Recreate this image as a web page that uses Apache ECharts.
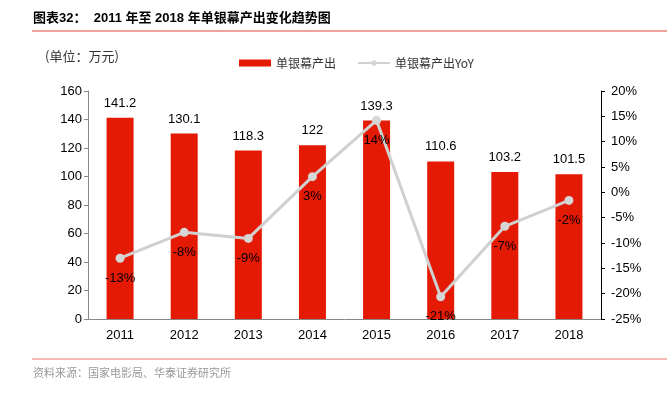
<!DOCTYPE html>
<html>
<head>
<meta charset="utf-8">
<script src="https://cdn.jsdelivr.net/npm/echarts@6/dist/echarts.min.js"></script>
<style>
  html, body { margin: 0; padding: 0; background: #fff; }
  #chart { width: 667px; height: 399px; }
</style>
</head>
<body>
<div id="chart"></div>
<script>
// 数据
const years = ['2011', '2012', '2013', '2014', '2015', '2016', '2017', '2018']
const screenOutput = [141.2, 130.1, 118.3, 122, 139.3, 110.6, 103.2, 101.5]
const yoy = [-13.0, -7.9, -9.1, 3.1, 14.2, -20.6, -6.7, -1.6]

const font = '"Liberation Sans", "Noto Sans CJK SC", sans-serif'
const cjk = '"Noto Sans CJK SC", sans-serif'

const myChart = echarts.init(document.getElementById('chart'))

const option = {
  animation: false,
  textStyle: { fontFamily: font },
  graphic: [
    {
      type: 'text', left: 33, top: 12,
      style: { text: '图表32：  2011 年至 2018 年单银幕产出变化趋势图', font: 'bold 13px ' + font, fill: '#000' }
    },
    {
      type: 'line', shape: { x1: 32, y1: 31, x2: 667, y2: 31 },
      style: { stroke: '#e0443a', lineWidth: 1 }
    },
    {
      type: 'text', left: 45, top: 50,
      style: { text: '(单位：万元)', font: '13px ' + cjk, fill: '#333' }
    },
    {
      type: 'line', shape: { x1: 32, y1: 359, x2: 667, y2: 359 },
      style: { stroke: '#e8756c', lineWidth: 1 }
    },
    {
      type: 'text', left: 33, top: 367,
      style: { text: '资料来源：国家电影局、华泰证券研究所', font: '11px ' + cjk, fill: '#999' }
    }
  ],
  legend: {
    top: 52,
    left: 234,
    itemGap: 21,
    itemWidth: 32,
    itemHeight: 7,
    textStyle: { fontFamily: cjk, fontSize: 12, color: '#333' },
    data: [
      { name: '单银幕产出', icon: 'rect' },
      { name: '单银幕产出YoY' }
    ]
  },
  grid: { left: 88, right: 66, top: 91, bottom: 80 },
  xAxis: {
    type: 'category',
    data: years,
    axisLine: { lineStyle: { color: '#888' } },
    axisTick: { alignWithLabel: true, length: 4, lineStyle: { color: '#888' } },
    axisLabel: { color: '#000', fontSize: 13, margin: 10 }
  },
  yAxis: [
    {
      type: 'value', min: 0, max: 160, interval: 20,
      splitLine: { show: false },
      axisLine: { show: true, lineStyle: { color: '#888' } },
      axisTick: { show: true, length: 4, lineStyle: { color: '#888' } },
      axisLabel: { color: '#000', fontSize: 13, margin: 6 }
    },
    {
      type: 'value', min: -25, max: 20, interval: 5,
      splitLine: { show: false },
      axisLine: { show: true, lineStyle: { color: '#000' } },
      axisTick: { show: true, length: 4, lineStyle: { color: '#000' } },
      axisLabel: { color: '#000', fontSize: 13, margin: 10, formatter: '{value}%' }
    }
  ],
  series: [
    {
      name: '单银幕产出',
      type: 'bar',
      data: screenOutput,
      barWidth: 27,
      itemStyle: { color: '#e41a05' },
      label: { show: true, position: 'top', distance: 8, color: '#000', fontSize: 13 }
    },
    {
      name: '单银幕产出YoY',
      type: 'line',
      yAxisIndex: 1,
      data: yoy,
      symbol: 'circle',
      symbolSize: 9,
      lineStyle: { color: '#d0d0d0', width: 3 },
      itemStyle: { color: '#d6d6d6' },
      label: {
        show: true, position: 'bottom', distance: 9, color: '#000', fontSize: 13,
        formatter: p => Math.round(p.value) + '%'
      },
      z: 3
    }
  ]
}

myChart.setOption(option)
</script>
</body>
</html>
